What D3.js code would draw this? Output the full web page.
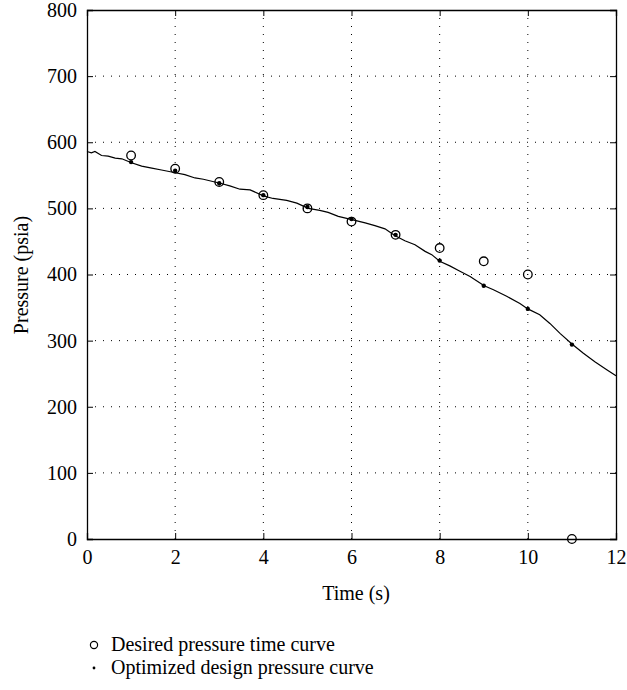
<!DOCTYPE html>
<html>
<head>
<meta charset="utf-8">
<script src="https://cdn.jsdelivr.net/npm/d3@7"></script>
<style>
  body { margin: 0; background: #fff; }
  svg { display: block; }
  text { font-family: "Liberation Serif", "DejaVu Serif", serif; fill: #000; }
</style>
</head>
<body>
<svg id="chart" width="627" height="690"></svg>
<script>
// ---- data ----
const xTicks = [0, 2, 4, 6, 8, 10, 12];
const yTicks = [0, 100, 200, 300, 400, 500, 600, 700, 800];

const desiredTime = [1, 2, 3, 4, 5, 6, 7, 8, 9, 10, 11];
const desiredPressure = [580, 560, 540, 520, 500, 480, 460, 440, 420, 400, 0];

const optimizedTime = [1, 2, 3, 4, 5, 6, 7, 8, 9, 10, 11];
const optimizedPressure = [570, 557, 538, 520, 502, 484, 460, 421, 383, 348, 294];

const curveTime = [0, 0.1, 0.18, 0.33, 0.48, 0.64, 0.79, 1.01, 1.24, 1.47, 1.69, 1.92,
  2.22, 2.45, 2.64, 3.02, 3.24, 3.47, 3.7, 4.0, 4.22, 4.53, 4.76, 5.02, 5.28, 5.47,
  5.70, 6.01, 6.31, 6.53, 6.76, 6.98, 7.21, 7.44, 7.67, 7.82, 8.0, 8.23, 8.46, 8.69,
  9.01, 9.22, 9.52, 9.82, 10.0, 10.27, 10.5, 10.73, 11.0, 11.26, 11.52, 11.79, 12.0];
const curvePressure = [586, 584, 586, 580, 579, 576, 575, 569, 564, 561, 558, 555,
  551, 546, 544, 538, 534, 529, 528, 519, 515, 512, 508, 500, 497, 494,
  488, 483, 478, 474, 469, 459, 451, 445, 435, 430, 420, 413, 405, 397,
  383, 377, 367, 356, 348, 339, 326, 311, 295, 281, 268, 256, 247];

const xLabel = "Time (s)";
const yLabel = "Pressure (psia)";
const legendLabels = ["Desired pressure time curve", "Optimized design pressure curve"];

// ---- layout ----
const svg = d3.select("#chart");
const L = 87, R = 616, T = 10, B = 539;
const x = d3.scaleLinear().domain([0, 12]).range([L, R]);
const y = d3.scaleLinear().domain([0, 800]).range([B, T]);

// grid
const grid = svg.append("g").attr("stroke", "#000").attr("stroke-width", 1)
  .attr("stroke-dasharray", "1,7");
grid.selectAll("line.v").data(xTicks.slice(1, -1)).join("line")
  .attr("x1", d => x(d)).attr("x2", d => x(d)).attr("y1", B).attr("y2", T);
grid.selectAll("line.h").data(yTicks.slice(1, -1)).join("line")
  .attr("y1", d => y(d)).attr("y2", d => y(d)).attr("x1", L).attr("x2", R);

// axes (ticks inward)
const fs = 20;
const bottomAxis = d3.axisBottom(x).tickValues(xTicks).tickSize(-6).tickPadding(11).tickFormat(d3.format("d"));
const leftAxis = d3.axisLeft(y).tickValues(yTicks).tickSize(-6).tickPadding(10).tickFormat(d3.format("d"));
const topAxis = d3.axisTop(x).tickValues(xTicks).tickSize(-6).tickFormat("");
const rightAxis = d3.axisRight(y).tickValues(yTicks).tickSize(-6).tickFormat("");

function styleAxis(g) {
  g.select(".domain").attr("stroke", "#000").attr("stroke-width", 1.3);
  g.selectAll(".tick line").attr("stroke", "#000").attr("stroke-width", 1);
  g.selectAll(".tick text").attr("font-size", fs).attr("font-family", "Liberation Serif, serif").attr("fill", "#000");
}
svg.append("g").attr("transform", `translate(0,${B})`).call(bottomAxis).call(styleAxis);
svg.append("g").attr("transform", `translate(${L},0)`).call(leftAxis).call(styleAxis);
svg.append("g").attr("transform", `translate(0,${T})`).call(topAxis).call(styleAxis);
svg.append("g").attr("transform", `translate(${R},0)`).call(rightAxis).call(styleAxis);

// curve
const curveData = curveTime.map((t, i) => [t, curvePressure[i]]);
svg.append("path").datum(curveData)
  .attr("fill", "none").attr("stroke", "#000").attr("stroke-width", 1.2)
  .attr("d", d3.line().x(d => x(d[0])).y(d => y(d[1])));

// optimized dots
svg.append("g").selectAll("circle").data(optimizedTime.map((t, i) => [t, optimizedPressure[i]]))
  .join("circle").attr("cx", d => x(d[0])).attr("cy", d => y(d[1])).attr("r", 2.2).attr("fill", "#000");

// desired circles
svg.append("g").selectAll("circle").data(desiredTime.map((t, i) => [t, desiredPressure[i]]))
  .join("circle").attr("cx", d => x(d[0])).attr("cy", d => y(d[1])).attr("r", 4.3)
  .attr("fill", "none").attr("stroke", "#000").attr("stroke-width", 1.3);

// axis titles
svg.append("text").attr("x", 356).attr("y", 600).attr("text-anchor", "middle")
  .attr("font-size", fs).text(xLabel);
svg.append("text").attr("transform", `translate(28,275) rotate(-90)`)
  .attr("text-anchor", "middle").attr("font-size", fs).text(yLabel);

// legend
const lg = svg.append("g");
lg.append("circle").attr("cx", 94).attr("cy", 645).attr("r", 3.6).attr("fill", "none")
  .attr("stroke", "#000").attr("stroke-width", 1.2);
lg.append("circle").attr("cx", 94).attr("cy", 668).attr("r", 1.4).attr("fill", "#000");
lg.selectAll("text").data(legendLabels).join("text")
  .attr("x", 111).attr("y", (d, i) => 651 + i * 23).attr("font-size", fs).text(d => d);
</script>
</body>
</html>
